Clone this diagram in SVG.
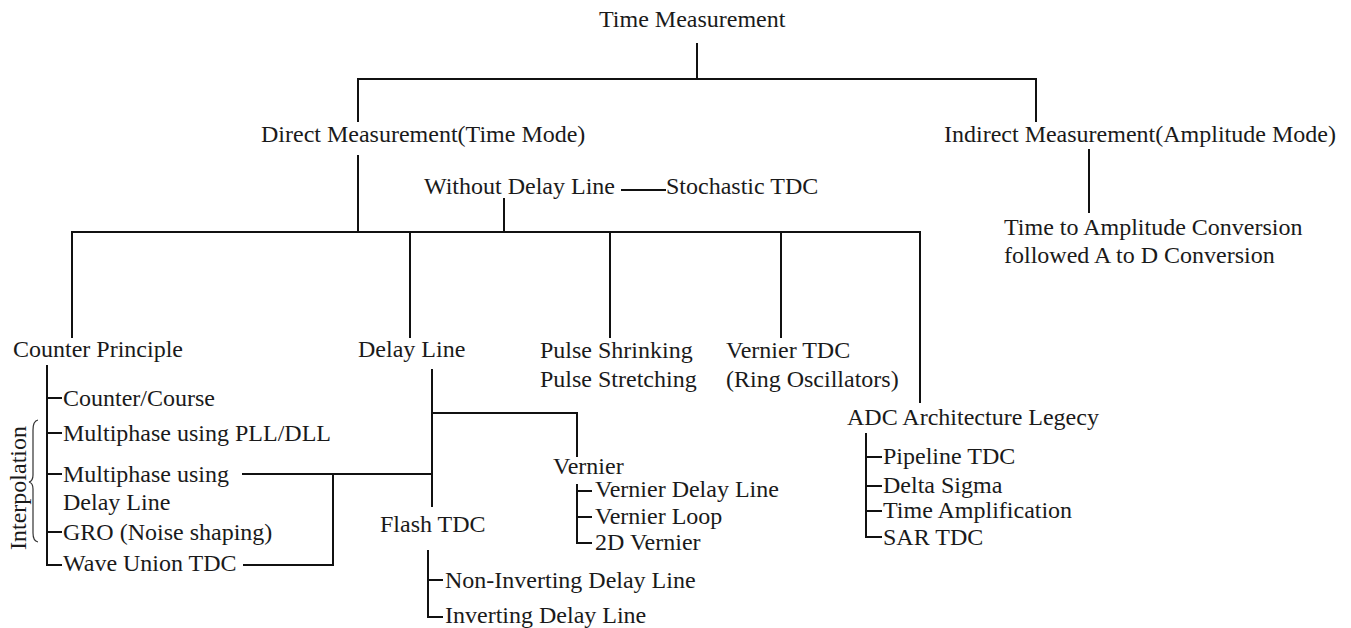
<svg xmlns="http://www.w3.org/2000/svg" width="1351" height="628" viewBox="0 0 1351 628">
<style>
text{font-family:"Liberation Serif","Times New Roman",serif;font-size:24px;fill:#1a1a1a}
.c line,.c polyline,.c path{stroke:#111;stroke-width:2;fill:none}
.brace{stroke:#333;stroke-width:1.2;fill:none}
</style>
<rect width="1351" height="628" fill="#fff"/>
<g class="c" id="connectors">
<line x1="697" y1="43" x2="697" y2="79"/>
<polyline points="358,122 358,79 1036,79 1036,122"/>
<line x1="358" y1="155" x2="358" y2="232"/>
<line x1="1089" y1="149" x2="1089" y2="213"/>
<line x1="621" y1="190" x2="666" y2="190"/>
<line x1="504" y1="198" x2="504" y2="232"/>
<polyline points="72,338 72,232 920,232 920,403"/>
<line x1="410" y1="232" x2="410" y2="338"/>
<line x1="610" y1="232" x2="610" y2="338"/>
<line x1="781" y1="232" x2="781" y2="338"/>
<polyline points="47,365 47,565 62,565"/>
<line x1="47" y1="398" x2="62" y2="398"/>
<line x1="47" y1="433" x2="62" y2="433"/>
<line x1="47" y1="474" x2="62" y2="474"/>
<line x1="47" y1="532" x2="62" y2="532"/>
<line x1="242" y1="474" x2="432" y2="474"/>
<polyline points="243,565 333,565 333,474"/>
<line x1="432" y1="369" x2="432" y2="507"/>
<polyline points="432,413 577,413 577,457"/>
<polyline points="577,484 577,543 592,543"/>
<line x1="577" y1="491" x2="592" y2="491"/>
<line x1="577" y1="517" x2="592" y2="517"/>
<polyline points="428,550 428,617 443,617"/>
<line x1="428" y1="580" x2="443" y2="580"/>
<polyline points="866,433 866,537 882,537"/>
<line x1="866" y1="457" x2="882" y2="457"/>
<line x1="866" y1="486" x2="882" y2="486"/>
<line x1="866" y1="511" x2="882" y2="511"/>
</g>
<g id="n-root"><text x="599" y="27" font-size="23">Time Measurement</text></g>
<g id="n-direct"><text x="261" y="142">Direct Measurement(Time Mode)</text></g>
<g id="n-indirect"><text x="944" y="142">Indirect Measurement(Amplitude Mode)</text></g>
<g id="n-tac"><text x="1004" y="235">Time to Amplitude Conversion</text><text x="1004" y="263">followed A to D Conversion</text></g>
<g id="n-without"><text x="424" y="194">Without Delay Line</text></g>
<g id="n-stochastic"><text x="666" y="194">Stochastic TDC</text></g>
<g id="n-counter"><text x="13" y="357">Counter Principle</text></g>
<g id="n-delay"><text x="358" y="357">Delay Line</text></g>
<g id="n-pulse"><text x="540" y="358">Pulse Shrinking</text><text x="540" y="387">Pulse Stretching</text></g>
<g id="n-verniertdc"><text x="726" y="358">Vernier TDC</text><text x="726" y="387">(Ring Oscillators)</text></g>
<g id="n-adc"><text x="847" y="425">ADC Architecture Legecy</text></g>
<g id="n-counter-items">
<text x="63" y="406">Counter/Course</text>
<text x="63" y="441">Multiphase using PLL/DLL</text>
<text x="63" y="482">Multiphase using</text>
<text x="63" y="510">Delay Line</text>
<text x="63" y="540">GRO (Noise shaping)</text>
<text x="63" y="571">Wave Union TDC</text>
</g>
<g id="n-interpolation">
<text transform="translate(26,488) rotate(-90)" text-anchor="middle">Interpolation</text>
<path class="brace" d="M38,420 Q33,421 33,430 L33,475 Q33,481 29,482 Q33,483 33,489 L33,533 Q33,541 38,542"/>
</g>
<g id="n-vernier"><text x="553" y="474">Vernier</text></g>
<g id="n-vernier-items">
<text x="595" y="497">Vernier Delay Line</text>
<text x="595" y="524">Vernier Loop</text>
<text x="595" y="550">2D Vernier</text>
</g>
<g id="n-flash"><text x="380" y="532">Flash TDC</text></g>
<g id="n-flash-items">
<text x="445" y="588">Non-Inverting Delay Line</text>
<text x="445" y="623">Inverting Delay Line</text>
</g>
<g id="n-adc-items">
<text x="883" y="464">Pipeline TDC</text>
<text x="883" y="493">Delta Sigma</text>
<text x="883" y="518">Time Amplification</text>
<text x="883" y="545">SAR TDC</text>
</g>
</svg>
